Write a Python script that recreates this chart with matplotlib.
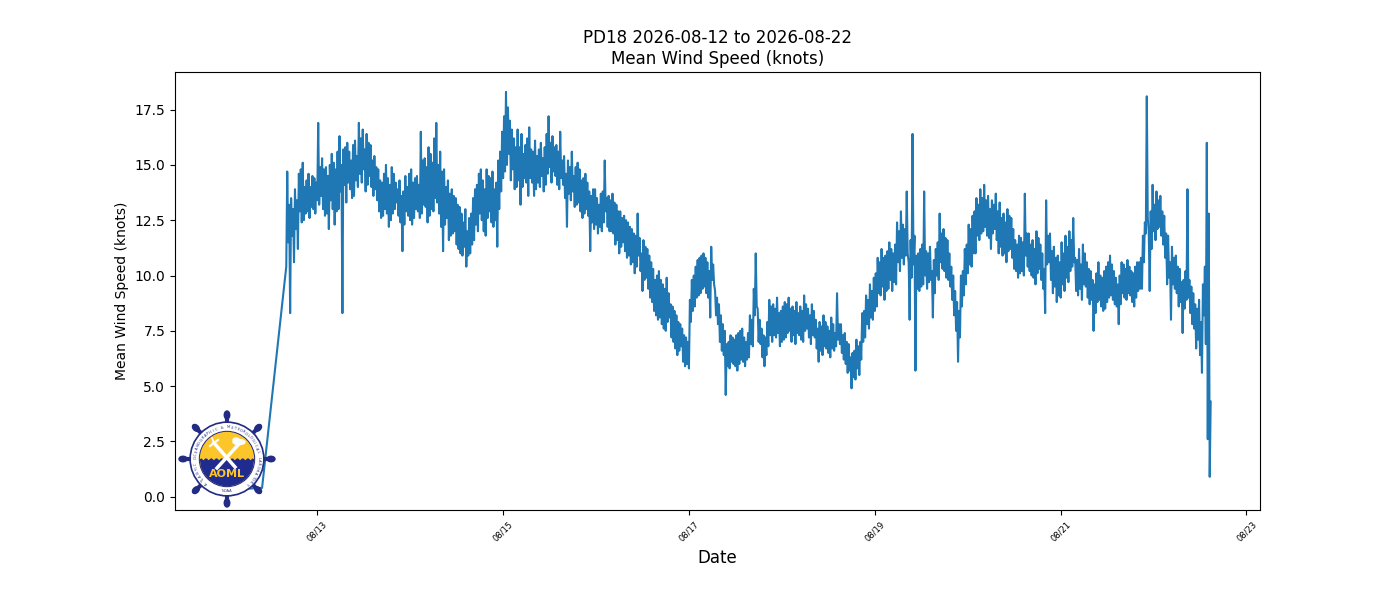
import matplotlib
matplotlib.use("Agg")
import matplotlib.pyplot as plt
import matplotlib.dates as mdates
import matplotlib.patches as mpatches
import numpy as np
import pandas as pd

station = "PD18"
title_dates = "2026-08-12 to 2026-08-22"

# first readings (before the buoy came up to speed)
early_times = ["2026-08-12 00:00", "2026-08-12 09:45"]
early_speeds = [0.3, 0.4]

# 15-minute mean wind speed (knots) from 2026-08-12 16:00, one row ~ 12 h
start_time = "2026-08-12 16:00"
speeds = [
    10.4, 14.7, 11.5, 13.2, 8.3, 13.5, 11.8, 13.0, 10.6, 13.9, 12.1, 13.4, 11.2, 14.6, 12.9, 14.8,
    12.4, 15.1, 12.5, 14.0, 12.8, 14.3, 12.9, 14.6, 12.6, 14.0, 13.1, 14.5, 13.0, 14.4, 12.8, 14.2,
    13.4, 16.9, 13.2, 14.9, 13.6, 15.3, 13.0, 14.8, 12.7, 14.9, 12.8, 14.5, 12.1, 15.0, 13.4,
    # 08/13 04:00
    15.5, 13.0, 15.1, 12.3, 14.8, 12.9, 15.6, 13.0, 16.3, 13.8, 15.0, 8.3, 15.7, 14.1, 15.8, 13.3,
    16.0, 14.2, 15.6, 13.9, 15.2, 13.5, 15.9, 13.6, 16.1, 14.3, 15.4, 14.0, 16.9, 14.6, 16.2, 14.2,
    16.6, 14.8, 15.7, 13.8, 16.4, 14.1, 16.0, 14.5, 15.9, 14.0, 15.2, 13.6, 15.4, 13.9, 14.9, 13.4,
    # 08/13 16:00
    14.8, 12.9, 14.3, 12.6, 14.2, 12.7, 14.6, 13.0, 15.0, 12.8, 14.4, 12.2, 14.1, 12.5, 14.9, 12.8,
    14.6, 13.0, 14.2, 13.3, 13.9, 12.7, 14.3, 12.4, 13.6, 11.1, 13.8, 12.3, 14.5, 12.9, 14.0, 12.7,
    14.6, 12.5, 14.8, 12.3, 14.2, 12.6, 14.4, 13.0, 14.5, 12.9, 14.1, 12.6, 16.5, 12.8, 15.2, 13.2,
    # 08/14 04:00
    15.3, 13.1, 14.9, 12.4, 15.8, 12.7, 15.5, 13.0, 15.1, 12.9, 16.2, 13.5, 16.9, 13.3, 15.0, 12.8,
    15.6, 12.2, 14.7, 11.1, 14.8, 12.3, 14.0, 12.6, 14.3, 11.6, 13.7, 11.8, 13.9, 11.9, 13.6, 12.0,
    13.5, 11.4, 13.2, 11.2, 13.1, 11.0, 12.8, 10.9, 12.4, 11.3, 13.0, 10.4, 12.0, 10.9, 12.6, 11.0,
    # 08/14 16:00
    12.8, 11.4, 13.5, 11.6, 13.9, 12.3, 14.1, 12.0, 14.6, 12.8, 14.8, 12.5, 14.3, 12.0, 13.9, 11.8,
    14.8, 12.6, 14.5, 12.9, 14.4, 12.4, 14.7, 12.2, 13.9, 12.5, 14.2, 11.3, 15.2, 13.0, 15.6, 13.8,
    16.5, 14.4, 17.2, 14.7, 18.3, 15.0, 17.6, 15.5, 17.0, 14.3, 16.6, 14.8, 16.2, 13.9, 15.8, 14.0,
    # 08/15 04:00
    16.6, 14.3, 15.8, 13.2, 16.4, 14.0, 15.5, 14.4, 15.9, 14.2, 16.2, 13.6, 16.7, 14.4, 15.7, 14.2,
    15.6, 13.6, 16.1, 13.9, 15.4, 14.2, 15.7, 14.0, 16.0, 14.5, 15.3, 13.8, 15.8, 14.1, 16.4, 14.6,
    17.2, 14.9, 16.0, 14.2, 16.3, 14.7, 15.8, 14.5, 15.9, 14.1, 15.6, 13.9, 16.5, 14.4, 15.2, 14.1,
    # 08/15 16:00
    15.4, 13.5, 14.6, 12.2, 15.2, 13.7, 14.9, 13.4, 15.6, 13.8, 14.5, 13.1, 14.9, 13.2, 15.1, 13.3,
    14.8, 12.9, 14.3, 12.6, 14.4, 12.8, 14.6, 13.0, 14.2, 12.7, 13.8, 11.1, 13.6, 12.4, 13.9, 12.1,
    13.9, 12.3, 13.5, 11.9, 13.2, 12.2, 13.7, 12.0, 13.8, 12.4, 15.2, 12.9, 13.5, 12.2, 13.6, 12.0,
    # 08/16 04:00
    13.4, 12.0, 13.7, 11.9, 13.3, 11.4, 13.2, 11.6, 12.9, 11.0, 12.9, 11.3, 12.6, 11.5, 12.7, 11.1,
    12.5, 10.8, 12.4, 10.9, 12.2, 10.5, 12.1, 10.6, 11.9, 10.1, 11.8, 10.4, 12.8, 10.9, 11.7, 10.2,
    11.0, 9.3, 11.6, 9.8, 11.3, 9.9, 11.2, 9.4, 10.9, 9.0, 10.6, 8.8, 10.3, 8.4, 9.8, 8.2,
    # 08/16 16:00
    10.0, 8.0, 10.2, 8.1, 9.8, 7.8, 9.6, 7.6, 9.4, 7.5, 9.9, 7.9, 9.2, 8.1, 8.7, 7.2,
    8.6, 7.0, 8.4, 6.7, 8.2, 6.4, 7.9, 6.6, 7.8, 6.8, 7.6, 6.1, 7.3, 5.9, 7.2, 6.0,
    7.0, 5.8, 8.9, 7.9, 9.8, 8.4, 10.0, 8.6, 10.4, 9.0, 10.7, 9.1, 10.8, 9.2, 10.9, 9.4,
    # 08/17 04:00
    11.0, 9.5, 10.8, 9.2, 10.6, 9.0, 10.2, 8.1, 11.3, 9.8, 10.5, 9.6, 9.3, 8.2, 9.0, 7.8,
    8.7, 7.0, 8.2, 6.6, 7.8, 6.4, 7.5, 4.6, 6.9, 5.9, 7.0, 5.8, 7.3, 6.1, 7.2, 6.0,
    7.1, 5.9, 7.3, 5.7, 7.4, 6.0, 7.5, 6.2, 7.6, 6.1, 7.2, 5.9, 7.0, 6.2, 7.4, 6.3,
    # 08/17 16:00
    8.2, 6.9, 8.0, 6.8, 9.4, 8.2, 11.0, 8.6, 8.5, 7.0, 8.0, 6.9, 7.6, 6.3, 7.3, 5.9,
    7.2, 6.4, 7.9, 6.8, 8.9, 7.3, 8.6, 7.0, 8.7, 7.3, 8.5, 7.2, 9.0, 7.4, 8.3, 6.8,
    8.4, 7.0, 8.6, 7.1, 8.8, 7.2, 8.7, 7.4, 9.0, 7.5, 8.5, 7.0, 8.6, 7.3, 8.4, 6.9,
    # 08/18 04:00
    8.8, 7.4, 8.3, 7.3, 8.6, 7.1, 8.4, 7.0, 9.1, 7.5, 8.7, 7.6, 8.5, 7.2, 8.2, 6.9,
    8.7, 7.3, 8.4, 7.2, 8.0, 6.7, 7.6, 6.1, 7.9, 6.6, 7.7, 6.4, 8.2, 6.8, 7.9, 6.7,
    7.7, 6.5, 7.5, 6.3, 8.1, 6.7, 7.8, 6.6, 7.4, 6.8, 9.2, 7.1, 7.8, 6.9, 7.8, 6.5,
    # 08/18 16:00
    7.3, 6.2, 7.4, 6.0, 7.0, 5.6, 6.9, 5.7, 6.3, 4.9, 6.5, 5.4, 6.6, 5.3, 7.1, 5.8,
    6.8, 5.5, 7.0, 6.2, 8.3, 7.0, 8.4, 7.2, 9.1, 7.8, 8.9, 7.6, 9.6, 8.1, 9.3, 8.0,
    9.9, 8.4, 10.1, 8.6, 10.8, 9.2, 10.6, 9.1, 11.2, 9.5, 10.8, 8.9, 10.9, 9.3, 11.1, 9.4,
    # 08/19 04:00
    11.5, 9.8, 11.2, 9.3, 11.0, 9.7, 11.4, 9.6, 12.4, 10.6, 12.0, 10.2, 12.9, 10.8, 12.3, 10.5,
    12.1, 10.9, 13.8, 11.0, 10.6, 8.0, 11.6, 9.9, 16.4, 10.5, 11.8, 5.7, 10.9, 9.4, 11.0, 9.3,
    11.2, 9.5, 11.4, 9.6, 13.8, 10.0, 11.1, 9.4, 11.0, 9.7, 11.3, 9.8, 10.2, 8.1, 10.7, 9.2,
    # 08/19 16:00
    11.2, 10.0, 11.5, 9.8, 12.8, 10.6, 11.9, 10.3, 12.1, 10.2, 11.7, 9.9, 11.6, 9.8, 11.0, 9.5,
    10.4, 8.9, 10.0, 8.2, 9.3, 7.5, 8.8, 6.1, 8.4, 7.2, 10.0, 8.6, 10.2, 9.1, 11.2, 9.6,
    11.4, 10.1, 12.3, 10.5, 12.1, 10.4, 12.7, 11.0, 12.9, 11.0, 13.5, 11.8, 13.2, 11.6, 13.9, 11.9,
    # 08/20 04:00
    13.5, 12.0, 14.1, 12.2, 13.4, 11.8, 13.6, 11.7, 13.0, 11.2, 13.4, 11.9, 13.2, 12.1, 13.7, 11.6,
    12.9, 11.0, 13.3, 11.3, 12.6, 10.9, 12.8, 11.0, 12.4, 10.6, 13.0, 11.1, 12.7, 11.2, 12.6, 10.8,
    12.1, 10.3, 11.6, 10.2, 11.4, 9.9, 11.8, 10.1, 11.7, 10.2, 11.5, 10.0, 13.7, 10.9, 11.9, 10.4,
    # 08/20 16:00
    11.9, 10.2, 11.4, 10.0, 11.6, 9.9, 11.2, 9.6, 12.0, 10.1, 11.7, 10.3, 11.4, 9.8, 11.0, 9.4,
    10.3, 8.3, 13.4, 10.5, 11.8, 10.6, 11.9, 9.8, 11.1, 9.2, 11.3, 9.5, 10.8, 8.8, 10.9, 9.1,
    10.6, 9.0, 11.5, 9.6, 11.0, 9.3, 11.8, 9.9, 11.3, 9.7, 12.0, 10.2, 11.6, 10.4, 12.6, 10.6,
    # 08/21 04:00
    10.8, 9.3, 10.7, 9.1, 11.2, 9.4, 10.5, 8.9, 11.4, 9.6, 11.0, 9.5, 10.6, 9.0, 10.3, 8.7,
    10.2, 8.9, 9.8, 7.5, 9.6, 8.3, 10.1, 8.8, 10.6, 8.9, 10.0, 8.6, 9.9, 8.4, 10.2, 8.5,
    10.4, 8.8, 10.6, 9.0, 10.9, 9.1, 10.5, 8.9, 10.2, 8.7, 9.9, 8.6, 9.6, 7.8, 10.0, 8.7,
    # 08/21 16:00
    10.6, 9.2, 10.5, 9.0, 10.3, 8.9, 10.7, 9.2, 10.4, 9.1, 10.2, 8.8, 10.1, 8.6, 10.4, 9.0,
    10.6, 9.3, 10.6, 9.4, 10.8, 9.4, 11.8, 10.6, 12.4, 11.9, 18.1, 12.6, 12.0, 9.3, 12.9, 11.2,
    14.1, 12.0, 13.2, 11.6, 13.8, 12.1, 13.4, 12.2, 13.6, 11.8, 12.9, 11.4, 12.7, 10.8, 11.9, 9.6,
    # 08/22 04:00
    11.8, 9.9, 10.6, 8.0, 11.3, 9.6, 10.8, 9.4, 10.9, 9.2, 10.4, 8.6, 10.3, 8.8, 9.7, 7.4,
    9.8, 8.5, 10.2, 8.9, 13.9, 9.0, 9.8, 8.3, 9.5, 7.8, 9.2, 7.6, 8.7, 6.7, 8.5, 7.1,
    8.9, 6.4, 7.9, 5.6, 9.6, 8.2, 10.4, 6.9, 16.0, 2.6, 12.8, 0.9, 4.3,
]

times = pd.to_datetime(early_times).append(
    pd.date_range(start_time, periods=len(speeds), freq="15min"))
values = early_speeds + speeds

navy = "#232c84"
gold = "#fcc62b"

fig = plt.figure(figsize=(14, 6), dpi=100)
ax = fig.add_subplot(111)
fig.subplots_adjust(left=0.125, right=0.9, top=0.88, bottom=0.15)

ax.plot(times, values, color="#1f77b4", linewidth=1.5)
ax.set_title(f"{station} {title_dates}\nMean Wind Speed (knots)", fontsize=12)
ax.set_xlabel("Date", fontsize=12)
ax.set_ylabel("Mean Wind Speed (knots)", fontsize=10)
ax.xaxis.set_major_locator(mdates.DayLocator(interval=2))
ax.xaxis.set_major_formatter(mdates.DateFormatter("%m/%d"))
plt.setp(ax.get_xticklabels(), rotation=45, fontsize=6)


# --- AOML logo in the lower-left corner ---
def arc_text(axl, s, r, a0, a1, **kw):
    for ch, a in zip(s, np.linspace(a0, a1, len(s))):
        t = np.deg2rad(a)
        axl.text(r * np.cos(t), r * np.sin(t), ch, rotation=a - 90,
                 ha="center", va="center", **kw)


lg = fig.add_axes([(227 - 50) / 1400, (600 - 509) / 600, 100 / 1400, 100 / 600])
lg.set_xlim(-50, 50)
lg.set_ylim(-50, 50)
lg.set_aspect("equal")
lg.axis("off")

for ang in range(0, 360, 45):
    t = np.deg2rad(ang)
    lg.plot([0, 43 * np.cos(t)], [0, 43 * np.sin(t)], color=navy, lw=3,
            solid_capstyle="round", zorder=1)
    lg.add_patch(mpatches.Ellipse((44 * np.cos(t), 44 * np.sin(t)), 8, 5.5,
                                  angle=ang, color=navy, zorder=1))
lg.add_patch(mpatches.Circle((0, 0), 37, color=navy, zorder=2))
lg.add_patch(mpatches.Circle((0, 0), 35.3, color="white", zorder=3))
lg.add_patch(mpatches.Circle((0, 0), 27.5, color=navy, zorder=4))
lg.add_patch(mpatches.Circle((0, 0), 26.5, color=gold, zorder=5))

wx = np.linspace(-26.5, 26.5, 60)
wave_top = 1.0 * np.cos(wx * 1.2) - 1.0
bottom = -np.sqrt(np.clip(26.5 ** 2 - wx ** 2, 0, None))
lg.add_patch(mpatches.Polygon(np.column_stack([np.r_[wx, wx[::-1]],
                                               np.r_[wave_top, bottom[::-1]]]),
                              closed=True, color="#1f2b8f", zorder=6))

# crossed tools and cloud
lg.plot([-13, 8], [16, -8], color="white", lw=2.5, zorder=7)
lg.plot([11, -10], [14, -9], color="white", lw=2.5, zorder=7)
lg.plot([-17, -13, -9], [13, 16, 19], color="white", lw=1.5, zorder=7)
lg.plot([-13, -15], [16, 21], color="white", lw=1.2, zorder=7)
lg.add_patch(mpatches.Ellipse((12, 17), 12, 5, color="white", zorder=7))
lg.add_patch(mpatches.Ellipse((9, 19), 6, 4, color="white", zorder=7))

lg.text(0, -15, "AOML", color=gold, fontsize=8, fontweight="bold",
        ha="center", va="center", zorder=8)
arc_text(lg, "ATLANTIC OCEANOGRAPHIC & METEOROLOGICAL LABORATORY", 31.5,
         228, -48, fontsize=2.6, color=navy, zorder=8)
lg.text(0, -31.5, "NOAA", fontsize=2.6, color=navy, ha="center",
        va="center", zorder=8)

fig.savefig("out.png", dpi=100)
